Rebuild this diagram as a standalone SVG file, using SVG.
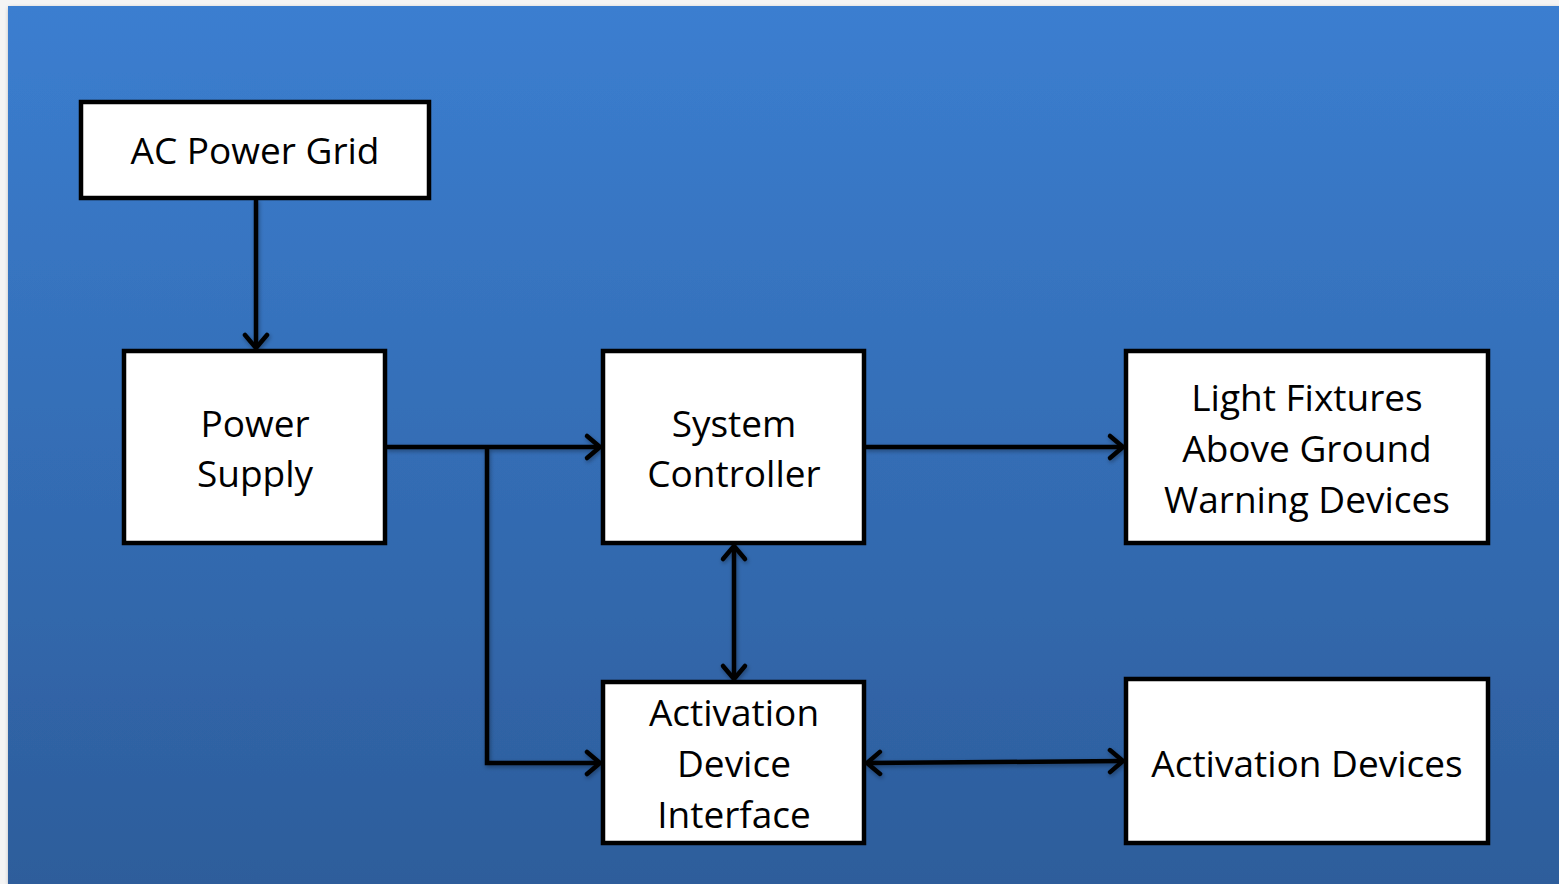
<svg xmlns="http://www.w3.org/2000/svg" width="1559" height="884" viewBox="0 0 1559 884">
  <defs>
    <linearGradient id="bg" x1="0" y1="0" x2="0" y2="1">
      <stop offset="0" stop-color="#3b7ed0"/>
      <stop offset="1" stop-color="#2d5d9b"/>
    </linearGradient>
    <filter id="shadow" x="-10%" y="-10%" width="120%" height="120%">
      <feDropShadow dx="1" dy="2" stdDeviation="2" flood-color="#000" flood-opacity="0.35"/>
    </filter>
    <marker id="arrow" viewBox="-18 -15 22 30" markerWidth="22" markerHeight="30" refX="0" refY="0" orient="auto-start-reverse" markerUnits="userSpaceOnUse">
      <path d="M-13,-11 L0,0 L-13,11" fill="none" stroke="#000" stroke-width="4.5" stroke-linecap="round" stroke-linejoin="round"/>
    </marker>
    <style>
      .box { fill: #fff; stroke: #000; stroke-width: 4.5; }
      .lbl { font-family: "Open Sans", "Noto Sans", sans-serif; font-size: 37px; fill: #000; text-anchor: middle; }
      .wire { fill: none; stroke: #000; stroke-width: 4.5; stroke-linejoin: miter; }
    </style>
  </defs>

  <!-- slide background -->
  <rect x="0" y="0" width="1559" height="884" fill="#f4f4f4"/>
  <rect x="8" y="6" width="1551" height="878" fill="url(#bg)" filter="url(#shadow)"/>

  <!-- connectors -->
  <g id="connectors" filter="url(#shadow)">
    <path class="wire" d="M256,199 V348" marker-end="url(#arrow)"/>
    <path class="wire" d="M386,447 H600" marker-end="url(#arrow)"/>
    <path class="wire" d="M487,447 V763 H600" marker-end="url(#arrow)"/>
    <path class="wire" d="M865,447 H1123" marker-end="url(#arrow)"/>
    <path class="wire" d="M734,546 V679" marker-start="url(#arrow)" marker-end="url(#arrow)"/>
    <path class="wire" d="M867,763 L1123,761" marker-start="url(#arrow)" marker-end="url(#arrow)"/>
  </g>

  <g id="ac-power-grid">
    <rect class="box" x="81" y="102" width="348" height="96"/>
    <text class="lbl" x="255" y="164">AC Power Grid</text>
  </g>

  <g id="power-supply">
    <rect class="box" x="124" y="351" width="261" height="192"/>
    <text class="lbl" x="255" y="437">Power</text>
    <text class="lbl" x="255" y="487">Supply</text>
  </g>

  <g id="system-controller">
    <rect class="box" x="603" y="351" width="261" height="192"/>
    <text class="lbl" x="734" y="437">System</text>
    <text class="lbl" x="734" y="487">Controller</text>
  </g>

  <g id="light-fixtures">
    <rect class="box" x="1126" y="351" width="362" height="192"/>
    <text class="lbl" x="1307" y="411">Light Fixtures</text>
    <text class="lbl" x="1307" y="462">Above Ground</text>
    <text class="lbl" x="1307" y="513">Warning Devices</text>
  </g>

  <g id="activation-device-interface">
    <rect class="box" x="603" y="682" width="261" height="161"/>
    <text class="lbl" x="734" y="726">Activation</text>
    <text class="lbl" x="734" y="777">Device</text>
    <text class="lbl" x="734" y="828">Interface</text>
  </g>

  <g id="activation-devices">
    <rect class="box" x="1126" y="679" width="362" height="164"/>
    <text class="lbl" x="1307" y="777">Activation Devices</text>
  </g>
</svg>
